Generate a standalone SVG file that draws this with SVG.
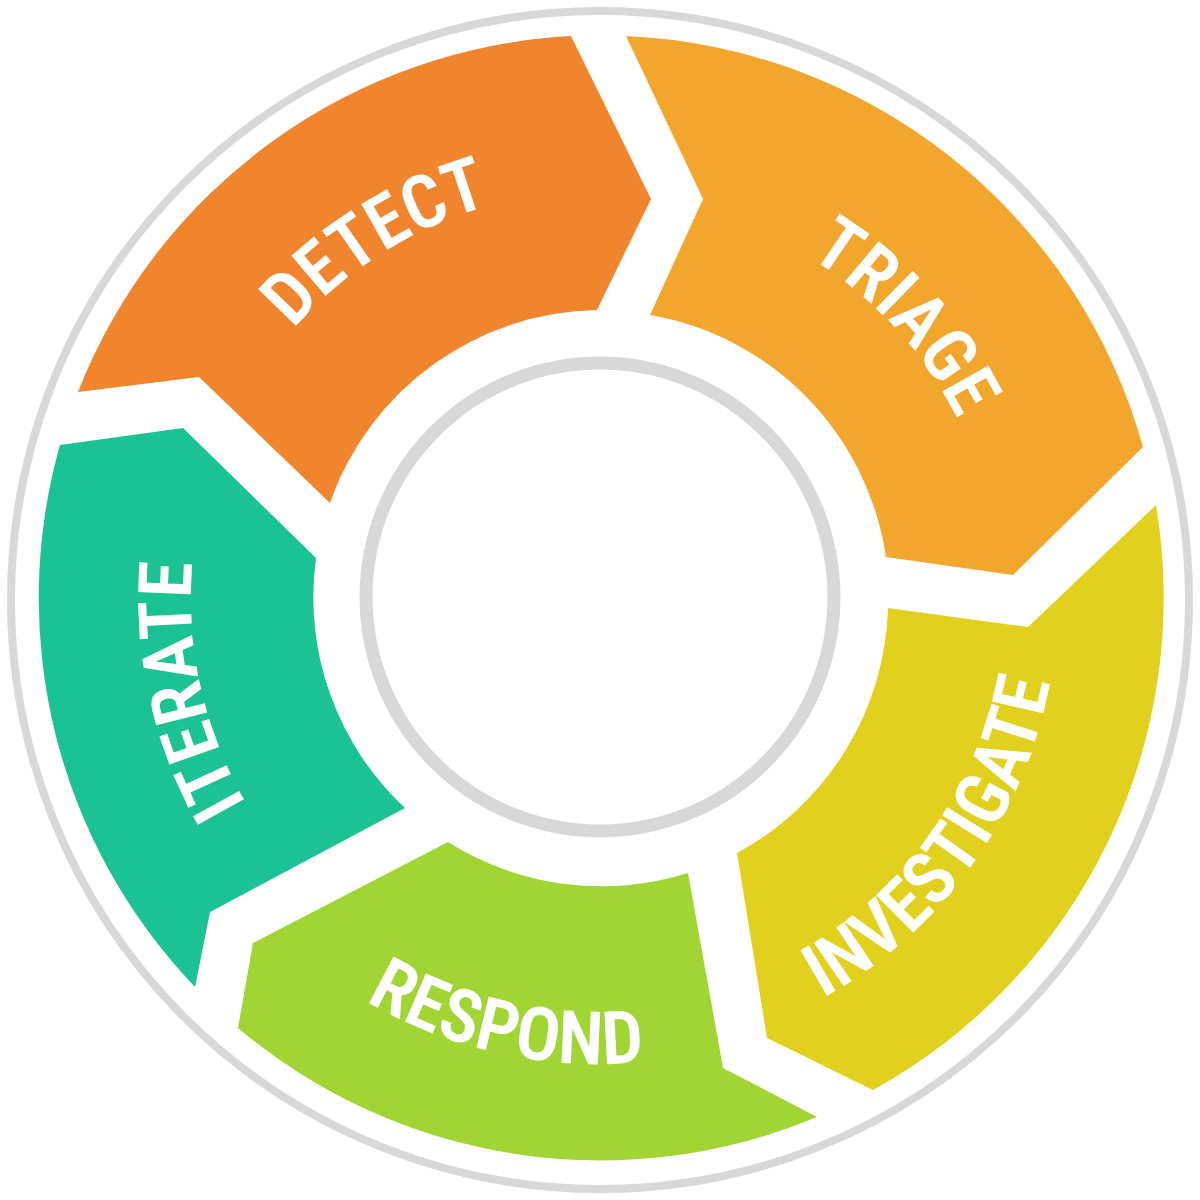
<svg xmlns="http://www.w3.org/2000/svg" width="1200" height="1200" viewBox="0 0 1200 1200">
<style>
.ring{fill:none;stroke:#d8d8d8}
.lbl{fill:#ffffff;font-family:"Roboto Condensed","Roboto","Open Sans",sans-serif;font-stretch:75%;font-weight:600;font-size:74px;letter-spacing:0px}
</style>
<defs>
<path id="pDetect" d="M202.2,507.6 A408,408 0 0 1 690.4,200.2"/>
<path id="pTriage" d="M616.8,198.4 A400,400 0 0 1 999.6,614.8"/>
<path id="pInvestigate" d="M673.6,1050 A458,458 0 0 0 1052,524.4"/>
<path id="pRespond" d="M207.3,849.1 A466,466 0 0 0 851.1,990.7"/>
<path id="pIterate" d="M380.8,943.3 A409,409 0 0 1 254.7,378.8"/>
</defs>
<rect width="1200" height="1200" fill="#ffffff"/>
<circle class="ring" cx="600" cy="600" r="589" stroke-width="8"/>
<circle class="ring" cx="600" cy="597" r="234" stroke-width="13"/>
<g id="detect">
<path fill="#F0852D" d="M78,392 A562,562 0 0 1 571,36 L651,199 L597,310 A288,288 0 0 0 330,503 L199,377 Z"/>
<text class="lbl"><textPath href="#pDetect" startOffset="50%" text-anchor="middle">DETECT</textPath></text>
</g>
<g id="triage">
<path fill="#F2A62C" d="M626,36 A562,562 0 0 1 1143,447 L1013,575 L886,557 A288,288 0 0 0 650,315 L703,199 Z"/>
<text class="lbl"><textPath href="#pTriage" startOffset="50%" text-anchor="middle">TRIAGE</textPath></text>
</g>
<g id="investigate">
<path fill="#E1D11E" d="M1156,505 A562,562 0 0 1 873,1090 L767,1038 L737,853 A288,288 0 0 0 888,608 L1028,627 Z"/>
<text class="lbl"><textPath href="#pInvestigate" startOffset="50%" text-anchor="middle">INVESTIGATE</textPath></text>
</g>
<g id="respond">
<path fill="#A0D534" d="M817,1117 A562,562 0 0 1 238,1028 L253,943 L448,842 A288,288 0 0 0 688,873 L723,1068 Z"/>
<text class="lbl"><textPath href="#pRespond" startOffset="50%" text-anchor="middle">RESPOND</textPath></text>
</g>
<g id="iterate">
<path fill="#1AC294" d="M195,987 A562,562 0 0 1 60,445 L183,428 L316,558 A288,288 0 0 0 405,808 L210,912 Z"/>
<text class="lbl"><textPath href="#pIterate" startOffset="50%" text-anchor="middle">ITERATE</textPath></text>
</g>
<g id="connectors"></g>
</svg>
